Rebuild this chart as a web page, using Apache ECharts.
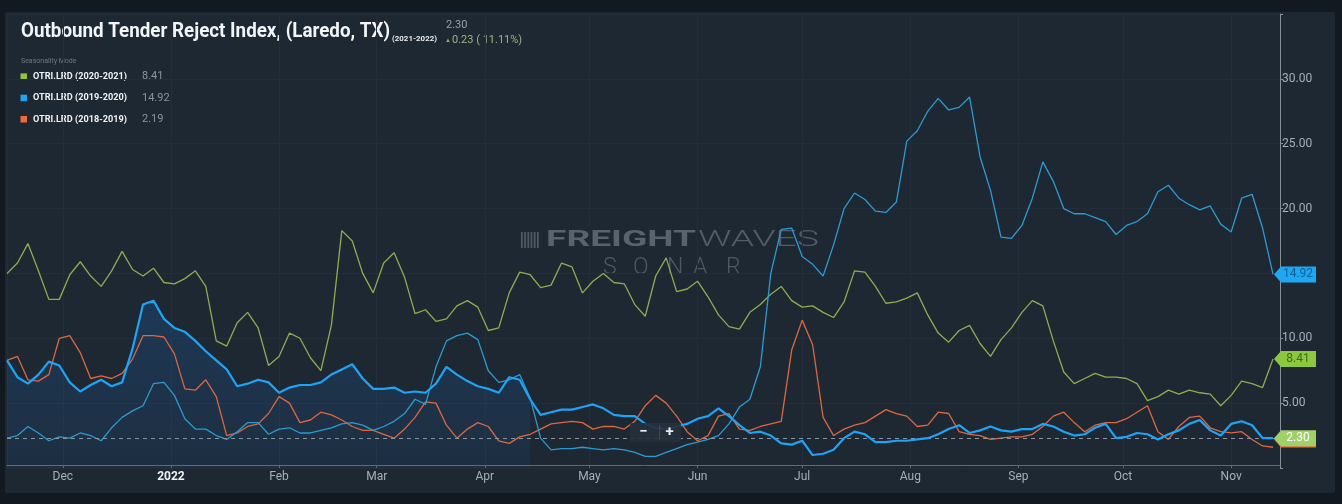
<!DOCTYPE html>
<html><head><meta charset="utf-8">
<script src="https://cdn.jsdelivr.net/npm/echarts@6/dist/echarts.min.js"></script>
<style>
html,body{margin:0;padding:0;background:#131920;width:1342px;height:504px;overflow:hidden}
#panel{position:absolute;left:5px;top:12px;width:1330px;height:481px;background:#1e2833;border-radius:2px}
#chart{position:absolute;left:0;top:0;width:1342px;height:504px}
</style></head><body>
<div id="panel"></div><div id="chart"></div>
<script>
// ---------------- data ----------------
const START = [2021, 10, 15];        // first observation (year, monthIndex, day)
const STEP_DAYS = 3;                 // spacing of the readings
const X_MIN = [2021, 10, 15];
const X_MAX = [2022, 10, 15];
const MONTHS = ['Jan','Feb','Mar','Apr','May','Jun','Jul','Aug','Sep','Oct','Nov','Dec'];
const Y_LABELS = [5, 10, 20, 25, 30];

const TITLE = 'Outbound Tender Reject Index, (Laredo, TX)';
const TITLE_PERIOD = '(2021-2022)';
const CURRENT = 2.30;
const CHANGE = 0.23;
const CHANGE_PCT = 11.11;
const LEGEND_HEADER = 'Seasonality Mode';
const LEGEND_NAMES = ['OTRI.LRD (2020-2021)', 'OTRI.LRD (2019-2020)', 'OTRI.LRD (2018-2019)'];
const LEGEND_VALUES = [8.41, 14.92, 2.19];
const FILL_COUNT = 51; // readings covered by the shaded band of the current season

const y2122 = [8.3,7.0,6.5,7.2,8.2,7.9,6.6,5.9,6.4,6.8,
  6.3,6.6,9.2,12.6,12.9,11.5,10.8,10.5,9.8,9.0,
  8.3,7.6,6.3,6.5,6.8,6.6,5.8,6.2,6.4,6.4,
  6.6,7.2,7.6,8.0,6.9,6.1,6.1,6.2,5.8,5.9,
  5.8,6.5,7.8,7.2,6.7,6.3,6.1,5.8,7.0,6.8,
  5.3,4.1,4.3,4.5,4.5,4.7,4.9,4.6,4.1,4.0,
  4.0,3.4,3.1,3.0,3.2,3.4,3.8,4.0,4.6,4.0,
  3.3,2.7,2.8,2.5,1.9,1.8,2.1,1.0,1.1,1.4,
  2.3,2.8,2.6,2.0,2.0,2.1,2.1,2.2,2.3,2.6,
  3.0,3.3,2.7,2.9,3.2,2.9,2.8,3.0,3.0,3.4,
  3.2,2.8,2.5,2.6,3.1,3.4,2.3,2.4,2.7,2.6,
  2.2,2.6,2.9,3.4,3.7,2.9,2.5,3.4,3.6,3.3,
  2.3,2.30];
const y2021 = [15.0,15.8,17.3,15.2,13.0,13.0,14.9,15.9,14.8,14.0,
  15.2,16.7,15.3,14.8,15.4,14.3,14.2,14.6,15.2,14.0,
  9.8,9.4,11.2,12.0,10.8,7.9,8.6,10.4,10.0,8.5,
  7.5,11.0,18.3,17.5,15.0,13.5,15.8,16.6,14.7,11.9,
  12.2,11.3,11.5,12.5,12.9,12.4,10.6,10.8,13.5,15.1,
  14.9,13.9,14.1,15.8,15.5,13.5,14.4,15.0,14.3,14.2,
  12.6,11.7,14.8,16.2,13.6,13.8,14.4,13.2,11.8,10.9,
  10.7,12.0,12.6,13.4,14.0,12.9,12.4,12.5,12.0,11.6,
  12.8,15.2,15.1,14.0,12.7,12.8,13.1,13.5,11.8,10.4,
  9.7,10.6,11.0,9.6,8.6,9.9,10.8,12.0,12.9,12.5,
  9.8,7.4,6.5,6.9,7.3,7.0,7.0,6.9,6.5,5.2,
  5.5,6.0,5.7,6.0,5.8,5.7,4.8,5.6,6.7,6.5,
  6.2,8.41];
const y1920 = [2.3,2.5,3.2,2.7,2.1,2.4,2.3,2.7,2.5,2.1,
  3.1,3.9,4.4,4.8,6.5,6.6,5.6,3.8,3.0,3.0,
  2.5,2.2,2.8,3.5,3.5,2.6,3.0,3.1,2.7,2.7,
  2.9,3.1,3.4,3.5,3.3,2.9,3.2,3.6,4.2,5.3,
  4.9,7.8,9.8,10.2,10.4,9.9,7.5,6.6,6.8,7.2,
  5.4,2.3,1.4,1.5,1.5,1.6,1.5,1.4,1.5,1.4,
  1.2,0.9,0.9,1.2,1.5,1.8,2.0,2.2,2.5,3.4,
  4.7,5.3,7.8,15.0,18.4,18.5,16.3,15.7,14.8,17.2,
  20.0,21.2,20.7,19.8,19.7,20.5,25.2,26.0,27.5,28.5,
  27.6,27.8,28.6,24.0,21.4,17.8,17.7,18.7,20.8,23.6,
  22.1,20.0,19.6,19.6,19.3,19.0,18.0,18.7,19.0,19.6,
  21.3,21.8,20.8,20.3,19.9,20.2,18.8,18.2,20.8,21.1,
  18.5,14.92];
const y1819 = [8.3,8.6,6.8,6.7,7.2,10.0,10.2,8.9,6.9,7.1,
  6.9,7.3,8.4,10.2,10.2,10.1,8.8,6.1,6.0,6.8,
  5.5,2.5,2.7,3.2,3.4,4.2,5.5,5.0,3.5,3.7,
  4.3,4.1,3.7,3.2,2.9,2.9,2.6,2.3,3.0,3.9,
  5.1,5.0,3.3,2.3,3.0,3.5,3.2,2.1,1.9,2.4,
  2.6,3.0,3.4,3.5,3.6,3.5,3.0,3.2,3.2,3.0,
  3.6,4.8,5.6,5.0,4.0,2.8,2.1,2.5,4.0,4.2,
  3.0,2.9,3.2,3.4,3.6,9.1,11.4,9.5,3.9,2.5,
  3.0,3.3,3.5,4.0,4.5,4.2,4.0,3.2,3.3,4.3,
  4.2,2.8,2.6,2.5,2.2,2.3,2.4,2.4,2.6,3.2,
  4.0,4.3,3.5,2.8,3.3,3.5,3.5,3.8,4.3,4.8,
  2.8,2.2,3.2,3.9,4.0,3.1,2.8,2.7,2.8,2.2,
  1.7,1.6];

// ---------------- build ----------------
const dates = y2122.map((_, i) => new Date(START[0], START[1], START[2] + i * STEP_DAYS).getTime());
const pair = arr => arr.map((v, i) => [dates[i], v]);
const lastDate = dates[dates.length - 1];

const COLORS = { cur: '#1fa3f6', g: '#8cae4e', b: '#2b9bd2', o: '#dc6840' };
const LEGEND_COLORS = ['#8dc63f', '#1ea6f2', '#f06a38'];

const mctx = document.createElement('canvas').getContext('2d');
function fit(text, font, width) { mctx.font = font; return width / mctx.measureText(text).width; }

function tag(value, bg, fg, showText) {
  return {
    symbol: 'path://M0,8 L7,0 L42,0 L42,16 L7,16 Z',
    symbolSize: [42, 16], symbolOffset: [22, 0], silent: true,
    itemStyle: { color: bg },
    label: { show: showText, position: 'inside', formatter: () => value.toFixed(2), color: fg,
             fontSize: 12, fontFamily: 'Roboto', offset: [3, 0] },
    data: [{ coord: [lastDate, value], value: value }]
  };
}

function lineSeries(name, arr, color, width, mp, z) {
  return { name, type: 'line', data: pair(arr), showSymbol: false, symbol: 'none',
    lineStyle: { color, width }, itemStyle: { color }, z: z, markPoint: mp, silent: true };
}

const graphics = [];
function txt(x, y, text, size, weight, color, width, extra) {
  const font = weight + ' ' + size + 'px Roboto';
  const el = { type: 'text', x, y, silent: true,
    style: Object.assign({ text, fill: color, fontSize: size, fontWeight: weight, fontFamily: 'Roboto',
      verticalAlign: 'middle', align: 'left' }, extra || {}) };
  if (width) { el.scaleX = fit(text, font, width); }
  graphics.push(el);
}
// title block
txt(21, 32, TITLE, 20, 'bold', '#f3f5f7', 369);
txt(392, 38.5, TITLE_PERIOD, 8, 'bold', '#e8ebee', 45);
txt(446, 25, CURRENT.toFixed(2), 11, 'normal', '#98a1ab');
txt(445, 40, '\u25B2', 6, 'normal', '#7cc04a');
txt(452, 40, CHANGE.toFixed(2) + ' ( ' + CHANGE_PCT.toFixed(2) + '%)', 11, 'normal', '#9db384');
// legend
txt(21, 61, LEGEND_HEADER, 7, 'normal', '#6c7885');
LEGEND_NAMES.forEach((n, i) => {
  const cy = 76.7 + i * 21.3;
  graphics.push({ type: 'rect', silent: true, shape: { x: 20.5, y: cy - 3.3, width: 6.5, height: 6.5 }, style: { fill: LEGEND_COLORS[i] } });
  txt(33, cy, n, 9, 'bold', '#f1f3f5', 94);
  txt(142, cy, LEGEND_VALUES[i].toFixed(2), 11, 'normal', '#8b949f');
});
// watermark
for (let i = 0; i < 6; i++) {
  graphics.push({ type: 'rect', silent: true, shape: { x: 521 + i * 3.2, y: 232, width: 1.8, height: 16 }, style: { fill: '#4e5966' } });
}
txt(546, 240, 'FREIGHT', 22, 'bold', '#58636f', 150);
txt(698, 240, 'WAVES', 22, '300', '#525d6a', 121);
['S', 'O', 'N', 'A', 'R'].forEach((c, i) => txt([603, 633, 667, 693, 726][i], 268.5, c, 23, '300', '#4e5966'));
// zoom control
graphics.push({ type: 'rect', silent: true, z: 50, shape: { x: 630, y: 423, width: 51, height: 19, r: 2 }, style: { fill: 'rgba(38,48,60,0.92)' } });
graphics.push({ type: 'line', silent: true, z: 51, shape: { x1: 659.5, y1: 425, x2: 659.5, y2: 440 }, style: { stroke: 'rgba(255,255,255,0.12)', lineWidth: 1 } });
graphics.push({ type: 'text', silent: true, z: 51, x: 643.5, y: 432.5, style: { text: '\u2212', fill: '#e8ebee', fontSize: 15, fontWeight: 'bold', fontFamily: 'Roboto', align: 'center', verticalAlign: 'middle' } });
graphics.push({ type: 'text', silent: true, z: 51, x: 669.5, y: 432.5, style: { text: '+', fill: '#e8ebee', fontSize: 15, fontWeight: 'bold', fontFamily: 'Roboto', align: 'center', verticalAlign: 'middle' } });

const chart = echarts.init(document.getElementById('chart'), null, { renderer: 'canvas' });
chart.setOption({
  animation: false,
  backgroundColor: 'transparent',
  grid: { left: 7, right: 62, top: 14, bottom: 36, containLabel: false },
  xAxis: {
    type: 'time',
    min: new Date(X_MIN[0], X_MIN[1], X_MIN[2]).getTime(),
    max: new Date(X_MAX[0], X_MAX[1], X_MAX[2]).getTime(),
    offset: -3,
    minInterval: 28 * 864e5, maxInterval: 31 * 864e5, splitNumber: 12,
    axisLine: { show: true, lineStyle: { color: '#5f6b78', width: 1 } },
    axisTick: { show: true, length: 3, lineStyle: { color: '#5f6b78' } },
    axisLabel: {
      color: '#a7afb8', fontSize: 12, fontFamily: 'Roboto', margin: 6,
      showMinLabel: false, showMaxLabel: false, hideOverlap: false,
      formatter: v => { const d = new Date(v); return d.getMonth() === 0 ? '{yr|' + d.getFullYear() + '}' : MONTHS[d.getMonth()]; },
      rich: { yr: { color: '#eef1f4', fontWeight: 'bold', fontSize: 12, fontFamily: 'Roboto' } }
    },
    splitLine: { show: true, lineStyle: { color: '#232e3a', width: 1 } }
  },
  yAxis: {
    type: 'value', position: 'right', min: 0, max: 35, interval: 5,
    axisLine: { show: true, lineStyle: { color: '#87909b', width: 1 } },
    axisTick: { show: true, length: 3, lineStyle: { color: '#87909b' } },
    axisLabel: { color: '#a7afb8', fontSize: 12, fontFamily: 'Roboto', margin: 2,
      formatter: v => Y_LABELS.indexOf(v) >= 0 ? v.toFixed(2) : '' },
    splitLine: { show: true, lineStyle: { color: '#232e3a', width: 1 } }
  },
  series: [
    lineSeries(LEGEND_NAMES[2], y1819, COLORS.o, 1.3, tag(LEGEND_VALUES[2], '#e8703f', '#ffffff', false), 2),
    lineSeries(LEGEND_NAMES[0], y2021, COLORS.g, 1.3, tag(y2021[y2021.length - 1], '#8dc63f', '#3f6a1c', true), 3),
    lineSeries(LEGEND_NAMES[1], y1920, COLORS.b, 1.3, tag(y1920[y1920.length - 1], '#1ea8f3', '#0f5f96', true), 4),
    { name: 'fill', type: 'line', data: pair(y2122.slice(0, FILL_COUNT)), showSymbol: false, symbol: 'none', silent: true, z: 1,
      lineStyle: { width: 0, opacity: 0 },
      areaStyle: { color: new echarts.graphic.LinearGradient(0, 0, 0, 1, [
        { offset: 0, color: 'rgba(30,120,215,0.30)' }, { offset: 1, color: 'rgba(30,110,200,0.14)' }]) } },
    Object.assign(lineSeries('OTRI.LRD (2021-2022)', y2122, COLORS.cur, 2.2, tag(CURRENT, '#a0d068', '#ffffff', true), 5), {
      markLine: { silent: true, symbol: 'none', label: { show: false },
        lineStyle: { color: '#8a95a2', type: [4, 4], width: 1 }, data: [{ yAxis: CURRENT }] } })
  ],
  graphic: graphics
});
</script>
</body></html>
